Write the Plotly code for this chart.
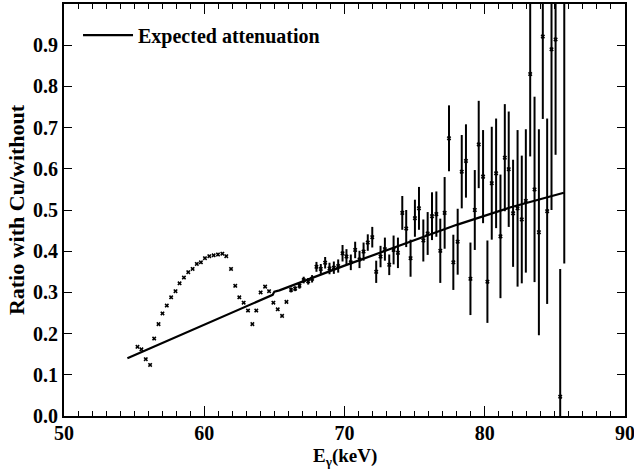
import plotly.graph_objects as go

# Measured ratio data (E in keV)
energy = [55.24, 55.52, 55.83, 56.14, 56.43, 56.74, 57.02, 57.33, 57.64, 57.95,
          58.24, 58.55, 58.86, 59.17, 59.47, 59.76, 60.05, 60.36, 60.67, 60.98,
          61.29, 61.57, 61.91, 62.21, 62.50, 62.81, 63.12, 63.43, 63.71, 64.02,
          64.34, 64.62, 64.93, 65.24, 65.55, 65.86, 66.19, 66.48, 66.79, 67.09,
          67.41, 67.69, 68.00, 68.31, 68.62, 68.93, 69.24, 69.55, 69.86, 70.14,
          70.45, 70.76, 71.07, 71.36, 71.66, 71.98, 72.26, 72.57, 72.88, 73.19,
          73.50, 73.81, 74.12, 74.40, 74.71, 75.02, 75.31, 75.62, 75.93, 76.24,
          76.55, 76.83, 77.14, 77.45, 77.76, 78.07, 78.36, 78.66, 78.98, 79.29,
          79.57, 79.88, 80.19, 80.50, 80.81, 81.12, 81.43, 81.71, 82.02, 82.34,
          82.64, 82.93, 83.24, 83.55, 83.86, 84.14, 84.45, 84.76, 85.05, 85.38,
          85.67]
ratio = [0.168, 0.162, 0.138, 0.124, 0.188, 0.223, 0.249, 0.268, 0.288, 0.303,
         0.322, 0.336, 0.349, 0.357, 0.369, 0.373, 0.383, 0.388, 0.390, 0.392,
         0.394, 0.388, 0.357, 0.316, 0.288, 0.275, 0.256, 0.223, 0.256, 0.300,
         0.314, 0.303, 0.275, 0.259, 0.243, 0.277, 0.306, 0.309, 0.316, 0.330,
         0.327, 0.333, 0.362, 0.357, 0.372, 0.358, 0.360, 0.364, 0.395, 0.387,
         0.373, 0.403, 0.380, 0.399, 0.421, 0.434, 0.350, 0.387, 0.405, 0.367,
         0.403, 0.396, 0.493, 0.455, 0.383, 0.480, 0.504, 0.426, 0.443, 0.485,
         0.490, 0.401, 0.493, 0.674, 0.373, 0.423, 0.593, 0.619, 0.333, 0.500,
         0.659, 0.581, 0.326, 0.565, 0.589, 0.436, 0.627, 0.599, 0.492, 0.504,
         0.477, 0.522, 0.830, 0.550, 0.446, 0.921, 0.497, 0.890, 0.914, 0.047,
         1.100]
ratio_err = [0, 0, 0, 0, 0, 0, 0, 0, 0, 0,
             0, 0, 0, 0, 0, 0, 0, 0, 0, 0,
             0, 0, 0, 0, 0, 0, 0, 0, 0, 0,
             0, 0, 0, 0, 0, 0, 0.006, 0.006, 0.007, 0.008,
             0.008, 0.009, 0.012, 0.012, 0.014, 0.014, 0.015, 0.016, 0.020, 0.018,
             0.019, 0.020, 0.021, 0.022, 0.020, 0.025, 0.027, 0.026, 0.028, 0.025,
             0.035, 0.037, 0.041, 0.045, 0.045, 0.045, 0.052, 0.051, 0.052, 0.058,
             0.055, 0.078, 0.087, 0.080, 0.067, 0.080, 0.089, 0.089, 0.088, 0.097,
             0.106, 0.113, 0.100, 0.137, 0.133, 0.150, 0.130, 0.140, 0.130, 0.190,
             0.155, 0.174, 0.200, 0.225, 0.250, 0.200, 0.225, 0.390, 0.280, 0.310,
             0.730]

# Expected attenuation curve
expected_x = [54.52, 59.5, 64.88, 65.0, 65.36, 70.0, 74.64, 78.0, 81.79, 85.64]
expected_y = [0.140, 0.214, 0.294, 0.302, 0.305, 0.365, 0.423, 0.464, 0.506, 0.542]

y_ticks = [0.0, 0.1, 0.2, 0.3, 0.4, 0.5, 0.6, 0.7, 0.8, 0.9]
x_ticks = [50, 60, 70, 80, 90]

FONT = "Liberation Serif, Times New Roman, serif"

fig = go.Figure()
fig.add_trace(go.Scatter(
    x=energy, y=ratio, mode="markers",
    marker=dict(symbol="x", size=4, color="black"),
    error_y=dict(type="data", array=ratio_err, visible=True,
                 thickness=2, width=0, color="black"),
    showlegend=False, cliponaxis=True,
))
fig.add_trace(go.Scatter(
    x=expected_x, y=expected_y, mode="lines",
    line=dict(color="black", width=2.2),
    name="<b>Expected attenuation</b>",
))

fig.update_layout(
    width=634, height=470,
    margin=dict(l=64, r=9, t=4, b=54),
    paper_bgcolor="white", plot_bgcolor="white",
    font=dict(family=FONT, size=20, color="black"),
    legend=dict(x=0.025, y=0.972, xanchor="left", yanchor="top",
                bgcolor="rgba(0,0,0,0)", font=dict(size=20), itemwidth=50),
    annotations=[dict(
        text="<b>E<sub>γ</sub>(keV)</b>", xref="paper", yref="paper",
        x=0.5, y=-0.1305, xanchor="center", yanchor="bottom",
        showarrow=False, font=dict(size=19), borderpad=0,
    )],
)
fig.update_xaxes(
    range=[50, 90], tickvals=x_ticks, ticktext=[f"<b>{v}</b>" for v in x_ticks],
    showline=True, linewidth=2, linecolor="black", mirror="ticks",
    ticks="inside", ticklen=10, tickwidth=1.3, tickcolor="black",
    minor=dict(dtick=1, ticks="inside", ticklen=5, tickwidth=1.3, tickcolor="black"),
    showgrid=False, zeroline=False, automargin=False, ticklabeloverflow="allow",
    ticklabelstandoff=-2,
)
fig.update_yaxes(
    range=[0, 1.0], tickvals=y_ticks, ticktext=[f"<b>{v:.1f}</b>" for v in y_ticks],
    showline=True, linewidth=2, linecolor="black", mirror="ticks",
    ticks="inside", ticklen=8, tickwidth=1.3, tickcolor="black",
    showgrid=False, zeroline=False, automargin=False, ticklabeloverflow="allow",
    title=dict(text="<b>Ratio with Cu/without</b>", font=dict(size=22), standoff=2),
)

fig.write_html("out.html", config={"displayModeBar": False},
               post_script="document.body.style.margin='0px';")
